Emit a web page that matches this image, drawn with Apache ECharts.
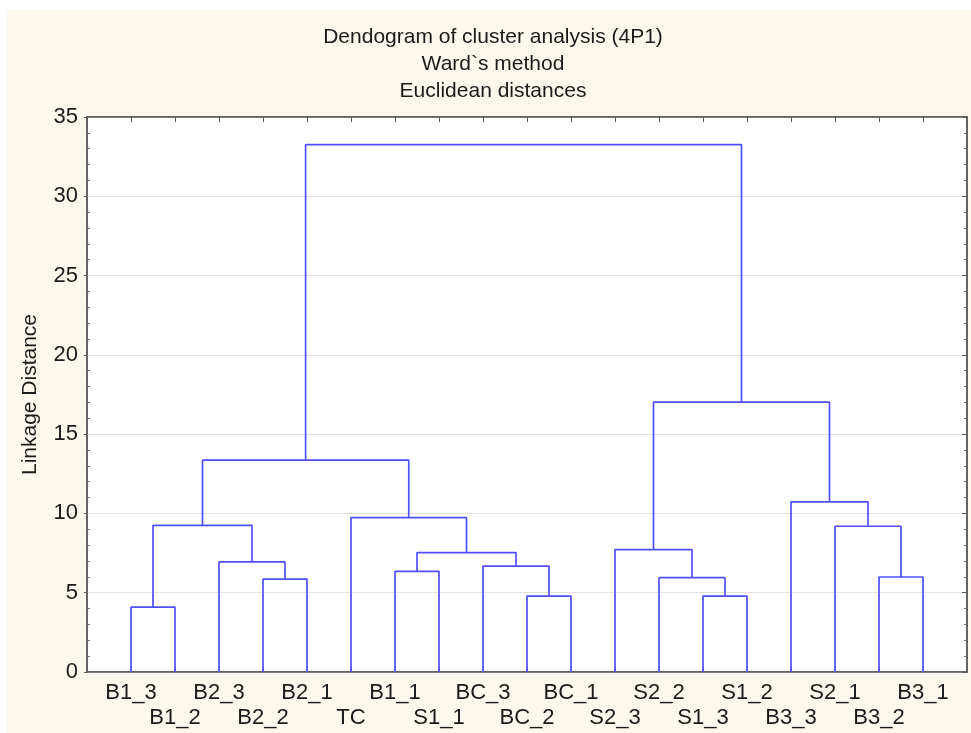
<!DOCTYPE html>
<html>
<head>
<meta charset="utf-8">
<script src="https://cdn.jsdelivr.net/npm/echarts@6/dist/echarts.min.js"></script>
<style>
  html, body { margin: 0; padding: 0; background: #ffffff; }
  #chart { width: 971px; height: 733px; }
</style>
</head>
<body>
<div id="chart"></div>
<script>
// Leaf order along the horizontal axis (positions 1..19)
const leaves = ['B1_3','B1_2','B2_3','B2_2','B2_1','TC','B1_1','S1_1','BC_3','BC_2','BC_1',
                'S2_3','S2_2','S1_3','S1_2','B3_3','S2_1','B3_2','B3_1'];

// Agglomeration steps: node ids 0..18 are leaves, 19+ are the merges below in order
const mergeLeft   = [0, 3, 2, 19, 6, 9, 8, 23, 5, 22, 13, 12, 11, 17, 16, 15, 31, 28];
const mergeRight  = [1, 4, 20, 21, 7, 10, 24, 25, 26, 27, 14, 29, 30, 18, 32, 33, 34, 35];
const mergeHeight = [4.09, 5.86, 6.94, 9.25, 6.35, 4.79, 6.68, 7.53, 9.74, 13.36,
                     4.79, 5.95, 7.72, 5.99, 9.19, 10.73, 17.02, 33.26];

const yTicks = [0, 5, 10, 15, 20, 25, 30, 35];
const titleLines = ['Dendogram of cluster analysis (4P1)', 'Ward`s method', 'Euclidean distances'];
const yName = 'Linkage Distance';

// Horizontal position and height of every node
const nodeX = leaves.map((_, i) => i + 1);
const nodeH = leaves.map(() => 0);
mergeLeft.forEach((l, k) => {
  const r = mergeRight[k];
  nodeX.push((nodeX[l] + nodeX[r]) / 2);
  nodeH.push(mergeHeight[k]);
});

// One bracket per merge
const links = mergeLeft.map((l, k) => {
  const r = mergeRight[k];
  const h = mergeHeight[k];
  return {
    type: 'line',
    xAxisIndex: 0,
    yAxisIndex: 0,
    symbol: 'none',
    silent: true,
    animation: false,
    lineStyle: { color: '#4f4fff', width: 1.7 },
    data: [[nodeX[l], nodeH[l]], [nodeX[l], h], [nodeX[r], h], [nodeX[r], nodeH[r]]]
  };
});

const FONT = 'Liberation Sans, Arial, sans-serif';
const axisGray = '#5a5a5a';

const chart = echarts.init(document.getElementById('chart'), null, { renderer: 'canvas' });
chart.setOption({
  backgroundColor: '#ffffff',
  animation: false,
  graphic: [{
    type: 'rect',
    z: -10,
    silent: true,
    shape: { x: 7, y: 10, width: 971, height: 733 },
    style: { fill: '#fdf8ee' }
  }],
  title: {
    text: titleLines.join('\n'),
    left: 493,
    textAlign: 'center',
    top: 24,
    padding: 0,
    textStyle: { fontFamily: FONT, fontSize: 21, fontWeight: 'normal', color: '#1a1a1a', lineHeight: 27 }
  },
  grid: {
    left: 87, right: 4, top: 117, bottom: 61,
    show: true,
    backgroundColor: '#ffffff',
    borderColor: axisGray,
    borderWidth: 1.5
  },
  xAxis: [{
    type: 'value',
    position: 'bottom',
    min: 0, max: leaves.length + 1, interval: 1,
    axisLine: { show: true, onZero: false, lineStyle: { color: axisGray, width: 1.5 } },
    axisTick: { show: true, inside: true, length: 5, lineStyle: { color: axisGray } },
    splitLine: { show: false },
    axisLabel: {
      show: true,
      margin: 8,
      showMinLabel: false,
      showMaxLabel: false,
      fontFamily: FONT,
      fontSize: 22,
      color: '#1a1a1a',
      lineHeight: 25,
      formatter: v => {
        const i = Math.round(v) - 1;
        if (i < 0 || i >= leaves.length) return '';
        return i % 2 === 0 ? leaves[i] : '\n' + leaves[i];
      }
    }
  }, {
    type: 'value',
    position: 'top',
    min: 0, max: leaves.length + 1, interval: 1,
    axisLine: { show: true, onZero: false, lineStyle: { color: axisGray, width: 1.5 } },
    axisTick: { show: true, inside: true, length: 5, lineStyle: { color: axisGray } },
    axisLabel: { show: false },
    splitLine: { show: false }
  }],
  yAxis: [{
    type: 'value',
    position: 'left',
    min: yTicks[0], max: yTicks[yTicks.length - 1], interval: 5,
    name: yName,
    nameLocation: 'middle',
    nameGap: 46,
    nameTextStyle: { fontFamily: FONT, fontSize: 21, color: '#1a1a1a' },
    axisLine: { show: true, onZero: false, lineStyle: { color: axisGray, width: 1.5 } },
    axisTick: { show: true, inside: false, length: 3, lineStyle: { color: axisGray } },
    axisLabel: { margin: 9, fontFamily: FONT, fontSize: 22, color: '#1a1a1a' },
    splitLine: { show: true, lineStyle: { color: '#e2e2e2', width: 1.2 } }
  }, {
    type: 'value',
    position: 'left',
    min: yTicks[0], max: yTicks[yTicks.length - 1], interval: 5,
    axisLine: { show: false },
    axisTick: { show: false, inside: true },
    minorTick: { show: true, splitNumber: 5, length: 3, lineStyle: { color: '#707070' } },
    axisLabel: { show: false },
    splitLine: { show: false }
  }, {
    type: 'value',
    position: 'right',
    min: yTicks[0], max: yTicks[yTicks.length - 1], interval: 5,
    axisLine: { show: true, onZero: false, lineStyle: { color: axisGray, width: 1.5 } },
    axisTick: { show: true, inside: true, length: 5, lineStyle: { color: axisGray } },
    minorTick: { show: true, splitNumber: 5, length: 3, lineStyle: { color: '#707070' } },
    axisLabel: { show: false },
    splitLine: { show: false }
  }],
  series: links
});
</script>
</body>
</html>
